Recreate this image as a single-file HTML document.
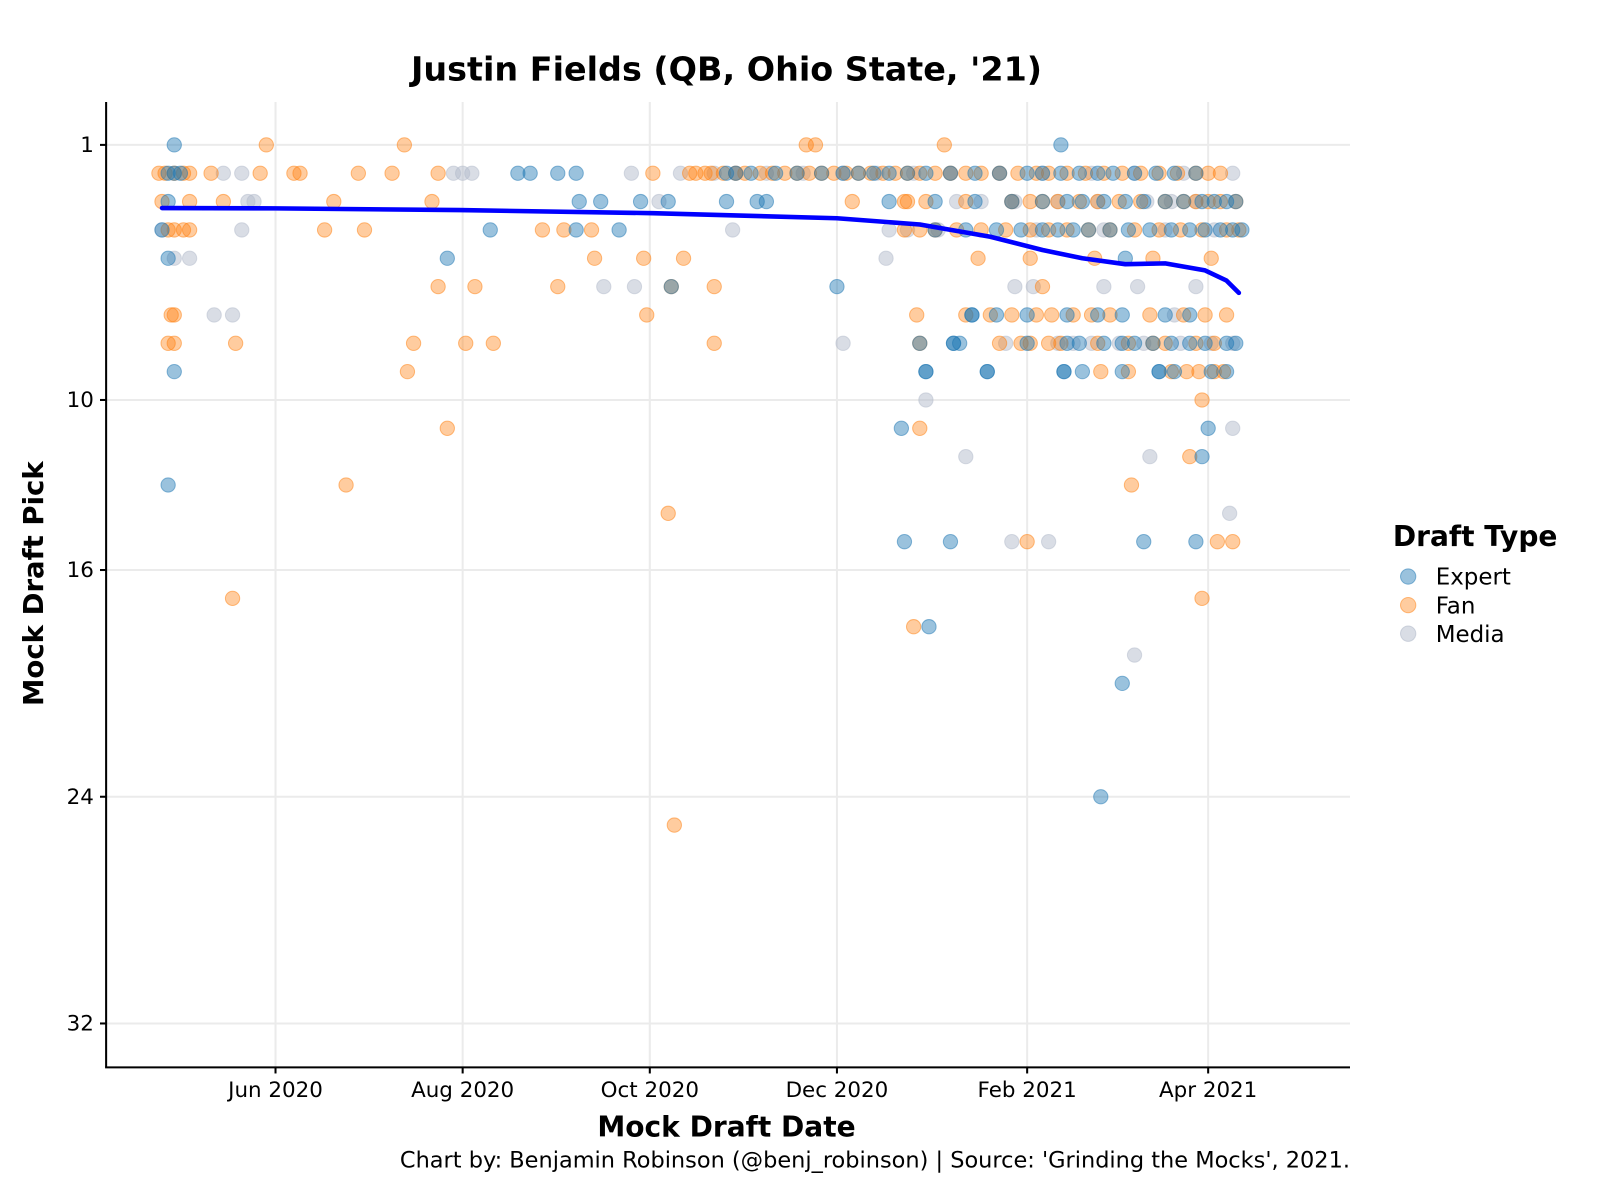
<!DOCTYPE html>
<html><head><meta charset="utf-8"><style>
html,body{margin:0;padding:0;background:#fff;}
svg{display:block;font-family:"DejaVu Sans","Liberation Sans",sans-serif;}
</style></head><body>
<svg id="chart" width="1600" height="1200" viewBox="0 0 1568 1176" xmlns="http://www.w3.org/2000/svg">
<text x="712" y="79" text-anchor="middle" font-size="32.7" font-weight="bold">Justin Fields (QB, Ohio State, '21)</text>
<g id="grid"></g>
<g id="points"></g>
<g id="trend"></g>
<g id="axes"></g>
<text transform="translate(42,572) rotate(-90)" text-anchor="middle" font-size="27" font-weight="bold">Mock Draft Pick</text>
<text x="712" y="1114" text-anchor="middle" font-size="27.5" font-weight="bold">Mock Draft Date</text>
<text x="1323" y="1144" text-anchor="end" font-size="22">Chart by: Benjamin Robinson (@benj_robinson) | Source: 'Grinding the Mocks', 2021.</text>
<g>
<text x="1365" y="535" font-size="27.5" font-weight="bold">Draft Type</text>
<g><circle cx="1380" cy="565" r="7.5" fill="#1f77b4" fill-opacity="0.45" stroke="#1f77b4" stroke-opacity="0.5"/><text x="1407" y="573" font-size="22.5">Expert</text></g>
<g><circle cx="1380" cy="593" r="7.5" fill="#ff7f0e" fill-opacity="0.4" stroke="#ff7f0e" stroke-opacity="0.5"/><text x="1407" y="601" font-size="22.5">Fan</text></g>
<g><circle cx="1380" cy="621" r="7.5" fill="#b4bccb" fill-opacity="0.5" stroke="#b4bccb" stroke-opacity="0.6"/><text x="1407" y="629" font-size="22.5">Media</text></g>
</g>
</svg>
<script>
// day offsets are days since 2020-06-01
const xTickLabels = ["Jun 2020","Aug 2020","Oct 2020","Dec 2020","Feb 2021","Apr 2021"];
const xTickDays = [0,61,122,183,245,304];
const yTicks = [1,10,16,24,32];

const expertPoints = [[-33,1],[-35,2],[-33,2],[-31,2],[-35,3],[-37,4],[-35,5],[-33,9],[-35,13],
[79,2],[83,2],[92,2],[98,2],[99,3],[106,3],[98,4],[112,4],[70,4],[56,5],[119,3],[128,3],[129,6],[147,2],[150,2],[155,2],[147,3],[157,3],[160,3],
[183,6],[204,11],[205,15],[213,18],[220,15],[212,9],[221,8],[227,7],[232,9],[256,1],[257,9],[277,5],[276,20],[269,24],[283,15],[302,12],[304,11],[300,15],[288,9]];
const expertBand2 = [163,170,178,185,190,195,200,206,212,220,228,236,245,250,256,262,268,273,280,287,293,300];
const expertBand3 = [200,215,228,240,250,258,263,270,277,283,290,296,302,306,310,313];
const expertBand4 = [215,225,235,243,250,255,260,265,272,278,285,292,298,303,308,312,315];
const expertBand7 = [227,235,245,258,268,276,290,298];
const expertBand8 = [210,221,223,245,258,262,270,276,280,286,292,298,303,310,313];
const expertBand9 = [212,232,257,263,276,288,293,305,310];

const fanPoints = [[-38,2],[-36,2],[-33,2],[-30,2],[-28,2],[-37,3],[-35,4],[-33,4],[-30,4],[-28,4],[-34,7],[-33,7],[-35,8],[-33,8],[-28,3],
[-21,2],[-17,3],[-14,17],[-13,8],[-5,2],[-3,1],[6,2],[8,2],[16,4],[19,3],[23,13],[27,2],[29,4],[38,2],[42,1],[43,9],[45,8],[51,3],[53,6],[53,2],[56,11],[62,8],[65,6],[71,8],
[87,4],[92,6],[94,4],[103,4],[104,5],[120,5],[121,7],[123,2],[128,14],[130,25],[129,6],[133,5],[135,2],[140,2],[143,6],[143,8],[173,1],[176,1],[218,1],[206,3],[208,18],[210,11],
[229,5],[279,13],[302,17],[302,10],[298,12],[245,15],[307,15],[312,15],[267,5],[286,5],[305,5],[246,5],[250,6]];
const fanBand2 = [137,142,146,150,153,158,162,166,170,174,178,182,186,190,194,198,202,206,210,215,220,225,230,236,242,248,252,258,264,270,276,282,288,294,300,304,308];
const fanBand3 = [188,205,212,225,240,246,250,255,262,268,275,282,290,296,300,304,308,313];
const fanBand4 = [205,210,215,222,230,238,246,252,258,265,272,280,288,295,302,310,314];
const fanBand7 = [209,225,233,240,248,253,260,266,272,285,296,303,310];
const fanBand8 = [210,236,243,246,252,256,268,278,286,290,300,306];
const fanBand9 = [269,278,292,297,301,306,309];

const mediaPoints = [[-20,7],[-14,7],[-17,2],[-11,2],[-11,4],[-7,3],[-9,3],[-37,4],[-33,5],[-28,5],[58,2],[61,2],[64,2],[107,6],[116,2],[117,6],[125,3],[132,2],[143,2],[149,4],
[185,8],[199,5],[212,10],[225,12],[240,15],[252,15],[280,19],[285,12],[311,14],[312,11],[241,6],[247,6],[281,6],[230,3],[240,3],[260,8],[275,8],[293,7],[300,6],[270,6]];
const mediaBand2 = [150,160,172,185,196,208,220,236,250,266,280,296,312];
const mediaBand3 = [222,241,255,268,284,292,300];
const mediaBand4 = [200,206,216,248,270,290,306];
const mediaBand8 = [238,255,266,283,295,305,312];

const trendDays = [-37,0,60,123,183,210,233,250,263,277,290,303,310,314];
const trendPicks = [3.23,3.24,3.30,3.41,3.59,3.81,4.24,4.71,5.0,5.21,5.18,5.43,5.79,6.22];

const NS = "http://www.w3.org/2000/svg";
const X0 = 104, X1 = 1323, Y0 = 100, Y1 = 1046;
function xs(d){ return 270 + d * (914/304); }
function ys(p){ return 142 + (p - 1) * (861/31); }

const grid = document.getElementById('grid');
const axes = document.getElementById('axes');
function mk(tag, attrs, parent){ const e = document.createElementNS(NS, tag); for (const k in attrs) e.setAttribute(k, attrs[k]); parent.appendChild(e); return e; }

xTickDays.forEach((d,i)=>{
  const x = xs(d);
  const g = mk('line',{x1:x,x2:x,y1:Y0,y2:Y1,stroke:'#ebebeb','stroke-width':2},grid);
  
  
  const t = mk('line',{x1:x,x2:x,y1:Y1,y2:Y1+6,stroke:'#000','stroke-width':2},axes);
  
  
  const l = mk('text',{x:x,y:Y1+29,'text-anchor':'middle','font-size':21},axes);
  l.textContent = xTickLabels[i];
  
  
});
yTicks.forEach(p=>{
  const y = ys(p);
  const g = mk('line',{x1:X0,x2:X1,y1:y,y2:y,stroke:'#ebebeb','stroke-width':2},grid);
  
  
  const t = mk('line',{x1:X0-6,x2:X0,y1:y,y2:y,stroke:'#000','stroke-width':2},axes);
  
  
  const l = mk('text',{x:X0-12,y:y+7,'text-anchor':'end','font-size':21},axes);
  l.textContent = p;
  
  
});
const ax = mk('line',{x1:X0,x2:X0,y1:Y0,y2:Y1,stroke:'#000','stroke-width':2},axes);


const ax2 = mk('line',{x1:X0-1,x2:X1,y1:Y1,y2:Y1,stroke:'#000','stroke-width':2},axes);



const pts = document.getElementById('points');
function band(days, pick){ return days.map(d=>[d,pick]); }
const layers = [
  {name:'media', col:'#b4bccb', fo:0.5, data: mediaPoints.concat(band(mediaBand2,2),band(mediaBand3,3),band(mediaBand4,4),band(mediaBand8,8))},
  {name:'fan', col:'#ff7f0e', fo:0.4, data: fanPoints.concat(band(fanBand2,2),band(fanBand3,3),band(fanBand4,4),band(fanBand7,7),band(fanBand8,8),band(fanBand9,9))},
  {name:'expert', col:'#1f77b4', fo:0.45, data: expertPoints.concat(band(expertBand2,2),band(expertBand3,3),band(expertBand4,4),band(expertBand7,7),band(expertBand8,8),band(expertBand9,9))}
];
layers.forEach(L=>{
  L.data.forEach(([d,p])=>{
    const c = mk('circle',{cx:xs(d),cy:ys(p),r:7,fill:L.col,'fill-opacity':L.fo,stroke:L.col,'stroke-opacity':0.5,'stroke-width':1},pts);
    
    
  });
});

const trend = document.getElementById('trend');
const dstr = trendDays.map((d,i)=>(i?'L':'M')+xs(d).toFixed(1)+','+ys(trendPicks[i]).toFixed(1)).join(' ');
const path = mk('path',{d:dstr,fill:'none',stroke:'#0000ff','stroke-width':4.5,'stroke-linejoin':'round','stroke-linecap':'round'},trend);


</script>
</body></html>
